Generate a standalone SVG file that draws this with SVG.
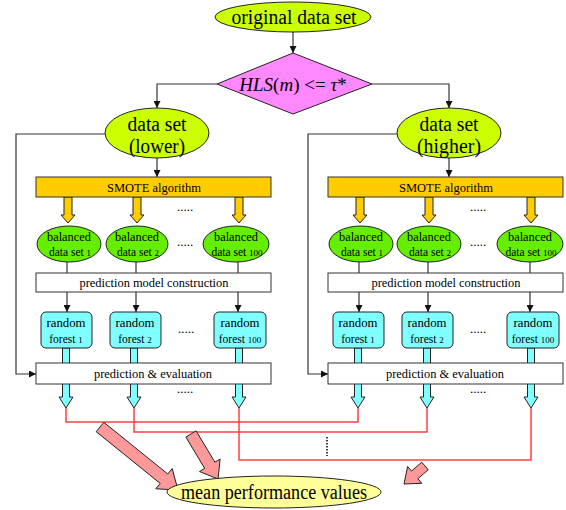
<svg xmlns="http://www.w3.org/2000/svg" width="566" height="510" viewBox="0 0 566 510">
<style>
text{fill:#000;text-anchor:middle}
.big{font-size:20px}
.mid{font-size:13px}
.sm{font-size:11.5px}
.sub{font-size:9px}
.ln{fill:none;stroke:#333;stroke-width:1.2}
.red{fill:none;stroke:#ff4040;stroke-width:1.5}
.box{fill:#fff;stroke:#333;stroke-width:1}
.smote{fill:#ffcc00;stroke:#333;stroke-width:1}
.bal{fill:#66ee00;stroke:#222;stroke-width:1}
.ds{fill:#ccff00;stroke:#222;stroke-width:1}
.rf{fill:#80ffff;stroke:#222;stroke-width:1}
.oa{fill:#ffcc00;stroke:#222;stroke-width:1}
.ca{fill:#80ffff;stroke:#222;stroke-width:1}
.pa{fill:#ff9999;stroke:#222;stroke-width:1}
.dots{font-size:13px}
</style>
<defs>
<marker id="ah" viewBox="0 0 10 10" refX="10" refY="5" markerWidth="7" markerHeight="7" orient="auto" markerUnits="userSpaceOnUse">
<path d="M0,0 L10,5 L0,10 z" fill="#111"/>
</marker>
<path id="oarr" class="oa" d="M-4,197 h8 v18 h3 l-7,8 l-7,-8 h3 z"/>
<path id="carr" class="ca" d="M-3.5,348 h7 v49 h3.5 l-7,11 l-7,-11 h3.5 z"/>
</defs>

<g id="connectors">
<line class="ln" x1="293" y1="32" x2="293" y2="53" marker-end="url(#ah)"/>
<polyline class="ln" points="217,84 157,84 157,108" marker-end="url(#ah)"/>
<polyline class="ln" points="372,84 449,84 449,108" marker-end="url(#ah)"/>
<line class="ln" x1="157" y1="158" x2="157" y2="177" marker-end="url(#ah)"/>
<line class="ln" x1="449" y1="158" x2="449" y2="177" marker-end="url(#ah)"/>
<polyline class="ln" points="105,134 16,134 16,374 36,374" marker-end="url(#ah)"/>
<polyline class="ln" points="397,134 308,134 308,374 328,374" marker-end="url(#ah)"/>
<line class="ln" x1="67" y1="262" x2="67" y2="273"/>
<line class="ln" x1="136" y1="262" x2="136" y2="273"/>
<line class="ln" x1="238" y1="262" x2="238" y2="273"/>
<line class="ln" x1="359" y1="262" x2="359" y2="273"/>
<line class="ln" x1="428" y1="262" x2="428" y2="273"/>
<line class="ln" x1="530" y1="262" x2="530" y2="273"/>
<line class="ln" x1="67" y1="292" x2="67" y2="312" marker-end="url(#ah)"/>
<line class="ln" x1="136" y1="292" x2="136" y2="312" marker-end="url(#ah)"/>
<line class="ln" x1="238" y1="292" x2="238" y2="312" marker-end="url(#ah)"/>
<line class="ln" x1="359" y1="292" x2="359" y2="312" marker-end="url(#ah)"/>
<line class="ln" x1="428" y1="292" x2="428" y2="312" marker-end="url(#ah)"/>
<line class="ln" x1="530" y1="292" x2="530" y2="312" marker-end="url(#ah)"/>
<use href="#oarr" x="68"/>
<use href="#oarr" x="137"/>
<use href="#oarr" x="239"/>
<use href="#oarr" x="360"/>
<use href="#oarr" x="429"/>
<use href="#oarr" x="531"/>
<use href="#carr" x="66"/>
<use href="#carr" x="134"/>
<use href="#carr" x="239"/>
<use href="#carr" x="358"/>
<use href="#carr" x="427"/>
<use href="#carr" x="531"/>
<polyline class="red" points="66,408 66,422 358,422 358,408"/>
<polyline class="red" points="134,408 134,432 427,432 427,408"/>
<polyline class="red" points="239,408 239,460 531,460 531,408"/>
<line x1="327" y1="437" x2="327" y2="456" stroke="#000" stroke-width="1.5" stroke-dasharray="1.5,1.5"/>
<polygon class="pa" points="96.2,431.7 160.2,483.4 155.8,488.8 178,490 172.2,468.6 167.8,474 103.8,422.3"/>
<polygon class="pa" points="185.9,437.1 204.7,468.4 199.5,471.5 218,479 220.1,459.1 214.9,462.2 196.1,430.9"/>
<polygon class="pa" points="421.8,462.2 411.5,471.1 407.6,466.5 404,484 421.8,483.3 417.9,478.7 428.2,469.8"/>
</g>

<g font-family="Liberation Serif, 'Times New Roman', serif">
<g id="original">
<ellipse class="ds" cx="293" cy="17" rx="78" ry="15"/>
<text class="big" x="294" y="24" textLength="125" lengthAdjust="spacingAndGlyphs">original data set</text>
</g>
<g id="condition">
<polygon points="293,53 372,84 293,114 217,84" fill="#ff88ff" stroke="#222" stroke-width="1"/>
<text x="293" y="91" font-size="19"><tspan font-style="italic">HLS</tspan>(<tspan font-style="italic">m</tspan>) &lt;= <tspan font-style="italic">τ</tspan>*</text>
</g>

<g id="lower">
<ellipse class="ds" cx="157" cy="133" rx="52" ry="25"/>
<text class="big" x="157" y="131" textLength="59" lengthAdjust="spacingAndGlyphs">data set</text>
<text class="big" x="157" y="153" textLength="56" lengthAdjust="spacingAndGlyphs">(lower)</text>
</g>
<g id="higher">
<ellipse class="ds" cx="449" cy="133" rx="52" ry="25"/>
<text class="big" x="449" y="131" textLength="59" lengthAdjust="spacingAndGlyphs">data set</text>
<text class="big" x="449" y="153" textLength="64" lengthAdjust="spacingAndGlyphs">(higher)</text>
</g>

<g id="smote-l"><rect class="smote" x="36" y="177" width="235" height="20"/><text class="mid" x="154" y="192" textLength="94" lengthAdjust="spacingAndGlyphs">SMOTE algorithm</text></g>
<g id="smote-r"><rect class="smote" x="328" y="177" width="235" height="20"/><text class="mid" x="446" y="192" textLength="94" lengthAdjust="spacingAndGlyphs">SMOTE algorithm</text></g>

<g id="bal-l1"><ellipse class="bal" cx="69" cy="244" rx="32" ry="18"/><text class="mid" x="69" y="241" textLength="44" lengthAdjust="spacingAndGlyphs">balanced</text><text class="sm" x="70" y="256">data set <tspan class="sub">1</tspan></text></g>
<g id="bal-l2"><ellipse class="bal" cx="137" cy="244" rx="31" ry="18"/><text class="mid" x="137" y="241" textLength="44" lengthAdjust="spacingAndGlyphs">balanced</text><text class="sm" x="138" y="256">data set <tspan class="sub">2</tspan></text></g>
<g id="bal-l100"><ellipse class="bal" cx="236" cy="244" rx="33" ry="18"/><text class="mid" x="236" y="241" textLength="44" lengthAdjust="spacingAndGlyphs">balanced</text><text class="sm" x="237" y="256">data set <tspan class="sub">100</tspan></text></g>
<g id="bal-r1"><ellipse class="bal" cx="361" cy="244" rx="32" ry="18"/><text class="mid" x="361" y="241" textLength="44" lengthAdjust="spacingAndGlyphs">balanced</text><text class="sm" x="362" y="256">data set <tspan class="sub">1</tspan></text></g>
<g id="bal-r2"><ellipse class="bal" cx="429" cy="244" rx="32" ry="18"/><text class="mid" x="429" y="241" textLength="44" lengthAdjust="spacingAndGlyphs">balanced</text><text class="sm" x="430" y="256">data set <tspan class="sub">2</tspan></text></g>
<g id="bal-r100"><ellipse class="bal" cx="530" cy="244" rx="33" ry="18"/><text class="mid" x="530" y="241" textLength="44" lengthAdjust="spacingAndGlyphs">balanced</text><text class="sm" x="531" y="256">data set <tspan class="sub">100</tspan></text></g>

<g id="dots">
<text class="dots" x="185" y="211">.....</text>
<text class="dots" x="185" y="246">.....</text>
<text class="dots" x="186" y="333">.....</text>
<text class="dots" x="185" y="393">.....</text>
<text class="dots" x="478" y="211">.....</text>
<text class="dots" x="478" y="246">.....</text>
<text class="dots" x="478" y="333">.....</text>
<text class="dots" x="478" y="393">.....</text>
</g>

<g id="pmc-l"><rect class="box" x="36" y="273" width="235" height="19"/><text class="mid" x="154" y="287" textLength="149" lengthAdjust="spacingAndGlyphs">prediction model construction</text></g>
<g id="pmc-r"><rect class="box" x="328" y="273" width="235" height="19"/><text class="mid" x="446" y="287" textLength="149" lengthAdjust="spacingAndGlyphs">prediction model construction</text></g>

<g id="rf-l1"><rect class="rf" x="41" y="312" width="51" height="36" rx="5"/><text class="mid" x="66" y="327" textLength="39" lengthAdjust="spacingAndGlyphs">random</text><text class="sm" x="66" y="343">forest <tspan class="sub">1</tspan></text></g>
<g id="rf-l2"><rect class="rf" x="110" y="312" width="51" height="36" rx="5"/><text class="mid" x="135" y="327" textLength="39" lengthAdjust="spacingAndGlyphs">random</text><text class="sm" x="135" y="343">forest <tspan class="sub">2</tspan></text></g>
<g id="rf-l100"><rect class="rf" x="214" y="312" width="52" height="36" rx="5"/><text class="mid" x="240" y="327" textLength="39" lengthAdjust="spacingAndGlyphs">random</text><text class="sm" x="240" y="343">forest <tspan class="sub">100</tspan></text></g>
<g id="rf-r1"><rect class="rf" x="333" y="312" width="51" height="36" rx="5"/><text class="mid" x="358" y="327" textLength="39" lengthAdjust="spacingAndGlyphs">random</text><text class="sm" x="358" y="343">forest <tspan class="sub">1</tspan></text></g>
<g id="rf-r2"><rect class="rf" x="402" y="312" width="51" height="36" rx="5"/><text class="mid" x="427" y="327" textLength="39" lengthAdjust="spacingAndGlyphs">random</text><text class="sm" x="427" y="343">forest <tspan class="sub">2</tspan></text></g>
<g id="rf-r100"><rect class="rf" x="507" y="312" width="52" height="36" rx="5"/><text class="mid" x="533" y="327" textLength="39" lengthAdjust="spacingAndGlyphs">random</text><text class="sm" x="533" y="343">forest <tspan class="sub">100</tspan></text></g>

<g id="pe-l"><rect class="box" x="36" y="363" width="235" height="21"/><text class="mid" x="153" y="378" textLength="118" lengthAdjust="spacingAndGlyphs">prediction &amp; evaluation</text></g>
<g id="pe-r"><rect class="box" x="328" y="363" width="235" height="21"/><text class="mid" x="445" y="378" textLength="118" lengthAdjust="spacingAndGlyphs">prediction &amp; evaluation</text></g>

<g id="mean">
<ellipse cx="274" cy="492" rx="107" ry="16" fill="#ffff99" stroke="#222" stroke-width="1"/>
<text class="big" x="274" y="499" textLength="186" lengthAdjust="spacingAndGlyphs">mean performance values</text>
</g>
</g>
</svg>
